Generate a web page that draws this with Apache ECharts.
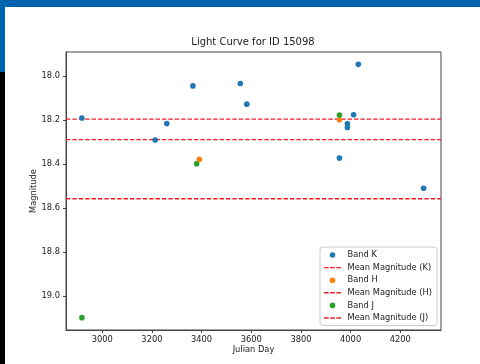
<!DOCTYPE html>
<html><head><meta charset="utf-8">
<script src="https://cdn.jsdelivr.net/npm/echarts@6/dist/echarts.min.js"></script>
<style>
html,body{margin:0;padding:0;background:#fff;}
#wrap{position:relative;width:480px;height:364px;overflow:hidden;background:#fff;}
#topbar{position:absolute;left:0;top:0;width:480px;height:7px;background:#0063b0;}
#leftblue{position:absolute;left:0;top:0;width:5px;height:72px;background:#0063b0;}
#leftblack{position:absolute;left:0;top:72px;width:5px;height:292px;background:#000;}
#chart{position:absolute;left:0;top:0;width:480px;height:364px;}
</style></head>
<body><div id="wrap"><div id="chart"></div><div id="topbar"></div><div id="leftblue"></div><div id="leftblack"></div></div>
<script>
// Band K observations
const bandKDays = [2918, 3213, 3260, 3365, 3556, 3582, 4031, 4012, 3987, 3987, 3955, 4294];
const bandKMags = [18.19, 18.29, 18.215, 18.044, 18.033, 18.127, 17.946, 18.175, 18.216, 18.233, 18.372, 18.509];
// Band H observations
const bandHDays = [3391, 3955];
const bandHMags = [18.378, 18.198];
// Band J observations
const bandJDays = [3380, 3955, 2918];
const bandJMags = [18.398, 18.176, 19.097];
// Mean magnitudes
const meanK = 18.195;
const meanH = 18.288;
const meanJ = 18.557;
// Axis ranges and ticks
const xRange = [2854, 4364];
const yRange = [17.89, 19.153];
const xTicks = [3000, 3200, 3400, 3600, 3800, 4000, 4200];
const yTicks = [18.0, 18.2, 18.4, 18.6, 18.8, 19.0];

const pts = (xs, ys) => xs.map((x, i) => [x, ys[i]]);
const hline = v => [[xRange[0], v], [xRange[1], v]];

const FONT = 'DejaVu Sans';
const txt = '#222';
const FS = 8.3;
const RED = '#ec1c24';
const DASH_ICON = 'path://M0,0h4.6v1.4h-4.6zM6.2,0h4.6v1.4h-4.6zM12.4,0h4.6v1.4h-4.6z';
const scatter = (name, data, color) => ({
  name, type: 'scatter', data, symbol: 'circle', symbolSize: 5.6,
  itemStyle: { color, opacity: 1 }, z: 3
});
const mean = (name, v) => ({
  name, type: 'line', data: hline(v), symbol: 'none', silent: true,
  color: RED,
  lineStyle: { color: RED, width: 1.4, type: [4.4, 2.0], opacity: 1 },
  itemStyle: { color: RED }, z: 2
});

const chart = echarts.init(document.getElementById('chart'), null, { renderer: 'canvas' });
chart.setOption({
  animation: false,
  backgroundColor: '#fff',
  title: {
    text: 'Light Curve for ID 15098', left: 253, top: 37, padding: 0, textAlign: 'center',
    textStyle: { fontFamily: FONT, fontSize: 10, fontWeight: 'normal', color: txt }
  },
  grid: { left: 66, right: 39, top: 52, bottom: 34, show: true, borderColor: '#444', borderWidth: 1, backgroundColor: 'transparent' },
  xAxis: {
    type: 'value', min: xRange[0], max: xRange[1],
    name: 'Julian Day', nameLocation: 'middle', nameGap: 16, nameMoveOverlap: false,
    nameTextStyle: { fontFamily: FONT, fontSize: FS, color: txt },
    axisLine: { show: true, lineStyle: { color: '#444', width: 1 } },
    axisTick: { show: true, length: 3, customValues: xTicks, lineStyle: { color: '#444' } },
    axisLabel: { customValues: xTicks, fontFamily: FONT, fontSize: FS, color: txt, margin: 6,
      formatter: v => String(v) },
    splitLine: { show: false }
  },
  yAxis: {
    type: 'value', inverse: true, min: yRange[0], max: yRange[1],
    name: 'Magnitude', nameLocation: 'middle', nameGap: 28, nameMoveOverlap: false,
    nameTextStyle: { fontFamily: FONT, fontSize: FS, color: txt },
    axisLine: { show: true, lineStyle: { color: '#444', width: 1 } },
    axisTick: { show: true, length: 3, customValues: yTicks, lineStyle: { color: '#444' } },
    axisLabel: { customValues: yTicks, fontFamily: FONT, fontSize: FS, color: txt, margin: 6,
      formatter: v => v.toFixed(1) },
    splitLine: { show: false }
  },
  legend: {
    orient: 'vertical', left: 320, top: 247,
    padding: [3, 5, 2.5, 4], itemGap: 2.6, itemWidth: 17, itemHeight: 5.6,
    borderColor: '#ccc', borderWidth: 1, borderRadius: 3, backgroundColor: 'rgba(255,255,255,0.8)',
    textStyle: { fontFamily: FONT, fontSize: FS, color: txt, lineHeight: 10, padding: [0, 0, 0, 1.5] },
    data: [
      { name: 'Band K', icon: 'circle' },
      { name: 'Mean Magnitude (K)', icon: DASH_ICON, itemStyle: { color: RED } },
      { name: 'Band H', icon: 'circle' },
      { name: 'Mean Magnitude (H)', icon: DASH_ICON, itemStyle: { color: RED } },
      { name: 'Band J', icon: 'circle' },
      { name: 'Mean Magnitude (J)', icon: DASH_ICON, itemStyle: { color: RED } }
    ]
  },
  series: [
    scatter('Band K', pts(bandKDays, bandKMags), '#1f77b4'),
    mean('Mean Magnitude (K)', meanK),
    scatter('Band H', pts(bandHDays, bandHMags), '#ff7f0e'),
    mean('Mean Magnitude (H)', meanH),
    scatter('Band J', pts(bandJDays, bandJMags), '#2ca02c'),
    mean('Mean Magnitude (J)', meanJ)
  ]
});
</script></body></html>
